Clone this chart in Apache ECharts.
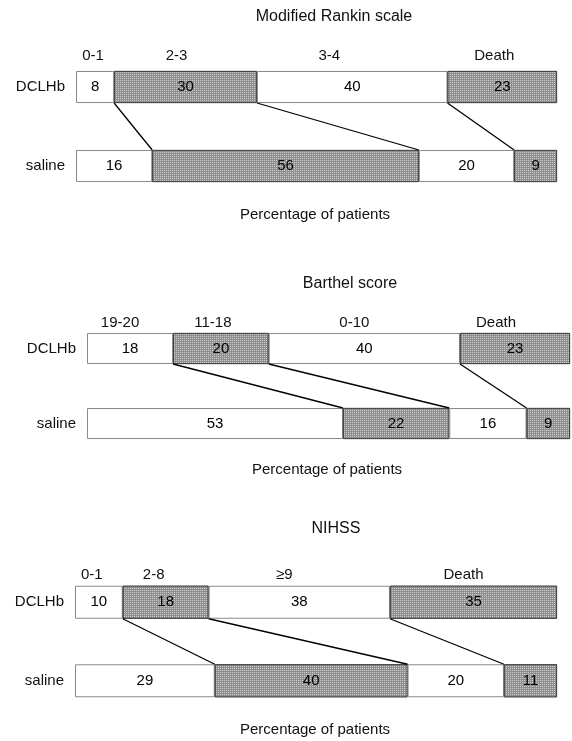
<!DOCTYPE html>
<html>
<head>
<meta charset="utf-8">
<script src="https://cdn.jsdelivr.net/npm/echarts@6/dist/echarts.min.js"></script>
<style>
html,body{margin:0;padding:0;background:#fff;}
#chart{width:572px;height:741px;}
</style>
</head>
<body>
<div id="chart"></div>
<script>
// ---- data ----
const groups = ['DCLHb', 'saline'];
const titles = ['Modified Rankin scale', 'Barthel score', 'NIHSS'];
const axisName = 'Percentage of patients';

const rankinCats = ['0-1', '2-3', '3-4', 'Death'];
const rankinDCLHb = [8, 30, 40, 23];
const rankinSaline = [16, 56, 20, 9];

const barthelCats = ['19-20', '11-18', '0-10', 'Death'];
const barthelDCLHb = [18, 20, 40, 23];
const barthelSaline = [53, 22, 16, 9];

const nihssCats = ['0-1', '2-8', '\u22659', 'Death'];
const nihssDCLHb = [10, 18, 38, 35];
const nihssSaline = [29, 40, 20, 11];

// ---- layout / style (not data) ----
const FONT = 'Liberation Sans, Arial, sans-serif';
const layouts = [
  {top: 47.5, height: 158, left: 76, right: 15, barW: 32, titleX: 334, titleY: 18, nameX: 315, nameY: 215, catDist: 8, catDx: [-2, -9, -23, -8]},
  {top: 311, height: 150, left: 87, right: 2, barW: 31, titleX: 350, titleY: 285, nameX: 327, nameY: 470, catDist: 3, catDx: [-10, -8, -10, -19]},
  {top: 563, height: 157, left: 75, right: 15, barW: 33, titleX: 336, titleY: 530, nameX: 315, nameY: 730, catDist: 3, catDx: [-7, -12, -15, -10]}
];
const panels = [
  {cats: rankinCats, d: rankinDCLHb, s: rankinSaline},
  {cats: barthelCats, d: barthelDCLHb, s: barthelSaline},
  {cats: nihssCats, d: nihssDCLHb, s: nihssSaline}
];

const whiteStyle = {color: '#ffffff', borderColor: '#8a8a8a', borderWidth: 1};
const grayStyle = {
  color: '#8f8f8f', borderColor: '#3a3a3a', borderWidth: 0.8,
  decal: {symbol: 'rect', symbolSize: 1, dashArrayX: [1, 1], dashArrayY: [1, 1], color: 'rgba(225,225,225,0.75)', rotation: 0}
};
const valueLabel = {show: true, position: 'inside', color: '#000', fontSize: 15, fontFamily: FONT};

const sum = a => a.reduce((p, c) => p + c, 0);
const cumul = a => { let t = 0; return a.map(v => (t += v)); };

const grid = [], xAxis = [], yAxis = [], series = [], title = [];

panels.forEach((p, i) => {
  const L = layouts[i];
  const sumD = sum(p.d), sumS = sum(p.s);
  const xD = 2 * i, xS = 2 * i + 1;
  grid.push({left: L.left, right: L.right, top: L.top, height: L.height, containLabel: false});
  // each group bar spans the full width of its own scale (100%)
  xAxis.push({gridIndex: i, type: 'value', min: 0, max: sumD, show: false});
  xAxis.push({gridIndex: i, type: 'value', min: 0, max: sumS, show: false});
  yAxis.push({
    gridIndex: i, type: 'category', data: groups, inverse: true,
    axisLine: {show: false}, axisTick: {show: false}, splitLine: {show: false},
    axisLabel: {color: '#111', fontSize: 15, fontFamily: FONT, margin: 11}
  });
  title.push({text: titles[i], left: L.titleX, top: L.titleY - 9, textAlign: 'center', padding: 0,
    textStyle: {fontSize: 16, fontWeight: 'normal', color: '#111', fontFamily: FONT}});
  title.push({text: axisName, left: L.nameX, top: L.nameY - 8, textAlign: 'center', padding: 0,
    textStyle: {fontSize: 15, fontWeight: 'normal', color: '#111', fontFamily: FONT}});

  p.cats.forEach((c, k) => {
    const st = k % 2 ? grayStyle : whiteStyle;
    series.push({
      type: 'bar', name: 'DCLHb ' + c, xAxisIndex: xD, yAxisIndex: i, stack: 'd' + i,
      barWidth: L.barW, barGap: '-100%', silent: true,
      data: [p.d[k], '-'], itemStyle: st, label: valueLabel
    });
    series.push({
      type: 'bar', name: 'saline ' + c, xAxisIndex: xS, yAxisIndex: i, stack: 's' + i,
      barWidth: L.barW, barGap: '-100%', silent: true,
      data: ['-', p.s[k]], itemStyle: st, label: valueLabel
    });
  });
  p.cats.forEach((c, k) => {
    series.push({
      type: 'bar', name: c + ' label', xAxisIndex: xD, yAxisIndex: i, stack: 'c' + i,
      barWidth: L.barW, barGap: '-100%', silent: true,
      data: [p.d[k], '-'],
      itemStyle: {color: 'rgba(0,0,0,0)', borderWidth: 0},
      label: {show: true, position: 'top', distance: L.catDist, formatter: c, offset: [L.catDx[k], 0],
        color: '#111', fontSize: 15, fontFamily: FONT}
    });
  });
  const cd = cumul(p.d), cs = cumul(p.s);
  const links = [];
  // saline boundary expressed on the DCLHb scale (same pixel width for both 100% bars)
  for (let k = 0; k < p.cats.length - 1; k++) links.push([cd[k], cs[k] * sumD / sumS, 0]);
  series.push({
    type: 'custom', xAxisIndex: xD, yAxisIndex: i, silent: true, clip: false, z: 5,
    encode: {x: [0, 1], y: 2},
    data: links,
    renderItem: (params, api) => {
      const a = api.coord([api.value(0), 0]);
      const b = api.coord([api.value(1), 1]);
      return {type: 'line', shape: {x1: a[0], y1: a[1] + L.barW / 2, x2: b[0], y2: b[1] - L.barW / 2},
        style: {stroke: '#000', lineWidth: 1.3}};
    }
  });
});

const chart = echarts.init(document.getElementById('chart'), null, {renderer: 'canvas'});
chart.setOption({
  backgroundColor: '#fff',
  animation: false,
  title, grid, xAxis, yAxis, series
});
</script>
</body>
</html>
